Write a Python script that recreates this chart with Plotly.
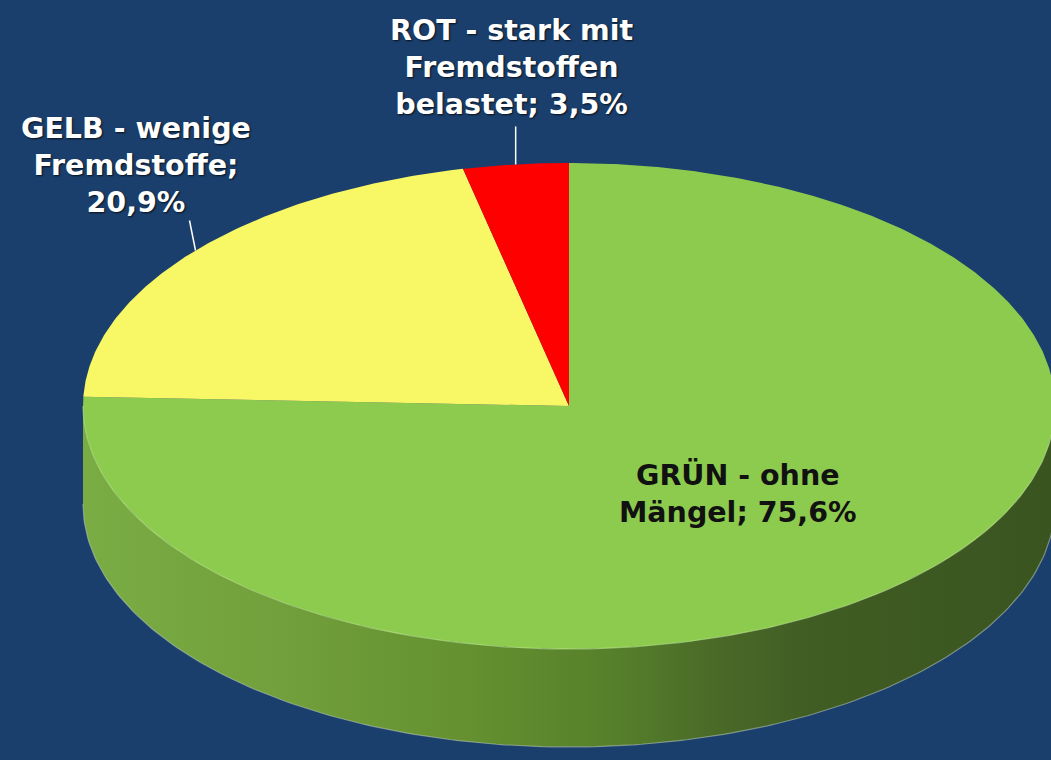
import numpy as np
import plotly.graph_objects as go

# ---- data ----
names = ["GRÜN - ohne<br>Mängel", "GELB - wenige<br>Fremdstoffe", "ROT - stark mit<br>Fremdstoffen<br>belastet"]
values = [75.6, 20.9, 3.5]
separators = [" ", "<br>", " "]
colors = ["#8dcb4e", "#f8f866", "#ff0000"]
text_colors = ["#111111", "#ffffff", "#ffffff"]

# ---- geometry (layout only) ----
W, H = 1051, 760
CX, CY = 569, 406
A, B = 486, 243
DEPTH = 98
BG = "#1b3f6c"


def pt(theta_deg, k=1.0, dy=0.0):
    t = np.radians(theta_deg)
    return CX + k * A * np.sin(t), CY - k * B * np.cos(t) + dy


fig = go.Figure()

# side wall (front half, always visible)
th_top = np.linspace(90, 270, 200)
th_bot = th_top[::-1]
xs_t, ys_t = pt(th_top)
xs_b, ys_b = pt(th_bot, dy=DEPTH)
fig.add_trace(go.Scatter(
    x=np.concatenate([xs_t, xs_b, xs_t[:1]]),
    y=np.concatenate([ys_t, ys_b, ys_t[:1]]),
    mode="lines", line=dict(width=0), fill="toself",
    fillgradient=dict(type="horizontal", colorscale=[
        [0.0, "#7aac44"], [0.2, "#72a03c"], [0.4, "#64902f"], [0.55, "#567f2b"],
        [0.65, "#4a6a28"], [0.75, "#405d23"], [1.0, "#3a5420"]]),
    hoverinfo="skip", showlegend=False))
# faint light line on bottom rim
fig.add_trace(go.Scatter(x=xs_b, y=ys_b, mode="lines",
                         line=dict(color="rgba(185,200,190,0.55)", width=1.2),
                         hoverinfo="skip", showlegend=False))

# top face slices
total = sum(values)
start = 0.0
mids = []
for v, c in zip(values, colors):
    span = v / total * 360.0
    th = np.linspace(start, start + span, max(int(span * 2), 4))
    ax_, ay_ = pt(th)
    fig.add_trace(go.Scatter(
        x=np.concatenate([[CX], ax_, [CX]]),
        y=np.concatenate([[CY], ay_, [CY]]),
        mode="lines", line=dict(width=0), fill="toself", fillcolor=c,
        hoverinfo="skip", showlegend=False))
    mids.append(start + span / 2)
    start += span

# light rim on front of top face
fig.add_trace(go.Scatter(x=xs_t, y=ys_t, mode="lines",
                         line=dict(color="rgba(190,230,140,0.6)", width=1.2),
                         hoverinfo="skip", showlegend=False))

# labels
# (radius factor, label offset from anchor, leader offset)
placement = [
    (0.5, (0, 0), None),
    (1.0, (-60, -85), (-6, -30)),
    (1.0, (-4, -97), (0, -38)),
]
for name, v, sep, tc, mid, (k, off, lead) in zip(names, values, separators, text_colors, mids, placement):
    x0, y0 = pt(mid, k=k)
    label = f"{name};{sep}{v:.1f}%".replace(".", ",")
    if lead is not None:
        fig.add_trace(go.Scatter(x=[x0, x0 + lead[0]], y=[y0, y0 + lead[1]], mode="lines",
                                 line=dict(color="white", width=1.5),
                                 hoverinfo="skip", showlegend=False))
    fig.add_annotation(
        x=x0 + off[0], y=y0 + off[1], xref="x", yref="y", text=label, showarrow=False,
        align="center", xanchor="center", yanchor="middle",
        font=dict(family="DejaVu Sans", size=28.5, color=tc, weight="bold",
                  shadow="1px 1px 2px rgba(0,0,0,0.75)" if tc == "#ffffff" else "none"))

fig.update_layout(
    width=W, height=H, margin=dict(l=0, r=0, t=0, b=0),
    paper_bgcolor=BG, plot_bgcolor=BG,
    xaxis=dict(range=[0, W], visible=False, fixedrange=True),
    yaxis=dict(range=[H, 0], visible=False, fixedrange=True),
    showlegend=False,
)
fig.write_html("out.html", config={"displayModeBar": False},
               post_script="document.body.style.margin='0';document.body.style.overflow='hidden';document.body.style.background='" + BG + "';")
